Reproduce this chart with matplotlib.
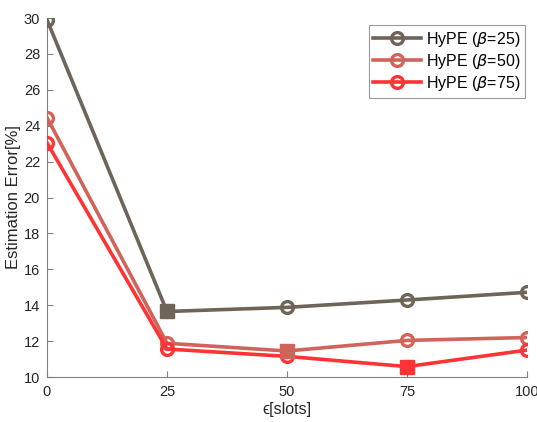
import matplotlib
matplotlib.use("Agg")
import matplotlib.pyplot as plt
import numpy as np

plt.rcParams['font.family'] = ['Liberation Sans', 'DejaVu Sans']
plt.rcParams['mathtext.fontset'] = 'dejavusans'

x = [0, 25, 50, 75, 100]
labels = ["HyPE ($\\beta$=25)", "HyPE ($\\beta$=50)", "HyPE ($\\beta$=75)"]
beta25 = [29.9, 13.65, 13.88, 14.29, 14.72]
beta50 = [24.45, 11.88, 11.45, 12.04, 12.2]
beta75 = [23.05, 11.56, 11.15, 10.58, 11.5]
series = [beta25, beta50, beta75]
colors = ["#6e6458", "#d0635a", "#ff3333"]
xticks = [0, 25, 50, 75, 100]
yticks = [10, 12, 14, 16, 18, 20, 22, 24, 26, 28, 30]

fig = plt.figure(figsize=(5.37, 4.22), dpi=100)
ax = fig.add_axes([0.0875, 0.1066, 0.8939, 0.8507])

for ys, c, lab in zip(series, colors, labels):
    ax.plot(x, ys, color=c, lw=2.6, marker='o', ms=8.5, mfc='none', mew=2.4,
            label=lab, zorder=3)
    i = int(np.argmin(ys))
    ax.plot([x[i]], [ys[i]], marker='s', ms=10, color=c, ls='none', zorder=4)

ax.set_xlim(0, 100)
ax.set_ylim(10, 30)
ax.set_xticks(xticks)
ax.set_yticks(yticks)
for s in ['top', 'right']:
    ax.spines[s].set_visible(False)
for s in ['left', 'bottom']:
    ax.spines[s].set_color('#808080')
    ax.spines[s].set_linewidth(0.8)
ax.tick_params(direction='in', length=4, color='#808080', labelsize=10.5,
               labelcolor='#262626', width=0.8)
ax.tick_params(axis='x', pad=6)
ax.tick_params(axis='y', pad=5)
ax.set_xlabel("\u03f5[slots]", fontsize=11.5, color='#262626', labelpad=2)
ax.set_ylabel("Estimation Error[%]", fontsize=12, color='#262626', labelpad=2)

leg = ax.legend(loc='upper right', bbox_to_anchor=(1.003, 0.99), fontsize=11.5,
                frameon=True, fancybox=False, edgecolor='#808080',
                handlelength=3.0, borderpad=0.3, labelspacing=0.2,
                handletextpad=0.3, borderaxespad=0.2)
leg.get_frame().set_linewidth(0.8)

fig.savefig("out.png", dpi=100)
